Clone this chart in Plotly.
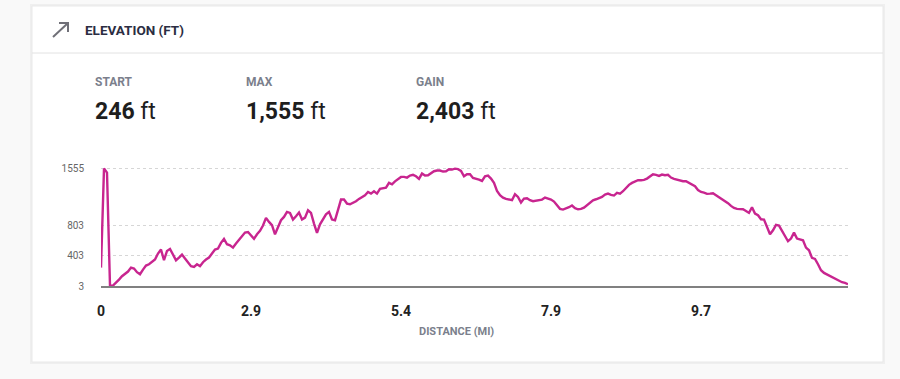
import plotly.graph_objects as go

# ---------------- data ----------------
elevation_ft = [
    246, 1555, 1500, 3, 9, 44, 88, 132, 167, 194,
    246, 233, 185, 158, 220, 273, 290, 317, 352, 431,
    484, 343, 466, 493, 422, 343, 378, 418, 365, 317,
    264, 255, 290, 264, 317, 352, 378, 431, 484, 497,
    572, 625, 554, 541, 510, 563, 607, 651, 708, 715,
    673, 625, 686, 730, 801, 902, 849, 805, 686, 783,
    871, 915, 981, 968, 880, 924, 972, 880, 906, 1003,
    968, 827, 704, 818, 880, 950, 981, 880, 871, 1003,
    1144, 1144, 1091, 1082, 1100, 1122, 1153, 1179, 1201, 1245,
    1223, 1254, 1223, 1285, 1294, 1302, 1364, 1346, 1385, 1420,
    1443, 1443, 1434, 1461, 1470, 1452, 1417, 1487, 1461, 1465,
    1496, 1518, 1527, 1527, 1514, 1518, 1544, 1540, 1552, 1545,
    1522, 1452, 1478, 1478, 1430, 1421, 1408, 1390, 1452, 1461,
    1421, 1364, 1258, 1201, 1170, 1153, 1148, 1135, 1214, 1179,
    1104, 1157, 1162, 1135, 1122, 1126, 1135, 1144, 1170, 1155,
    1144, 1118, 1074, 1021, 1012, 1025, 1043, 1065, 1030, 1016,
    1021, 1038, 1074, 1109, 1135, 1148, 1162, 1179, 1210, 1223,
    1206, 1197, 1232, 1223, 1254, 1302, 1338, 1364, 1386, 1399,
    1399, 1404, 1421, 1452, 1478, 1470, 1456, 1474, 1465, 1470,
    1434, 1417, 1404, 1395, 1386, 1386, 1364, 1342, 1320, 1270,
    1245, 1236, 1219, 1223, 1228, 1201, 1175, 1153, 1126, 1096,
    1060, 1034, 1021, 1021, 1016, 994, 968, 1043, 959, 937,
    884, 880, 783, 686, 739, 810, 801, 730, 651, 594,
    629, 708, 629, 616, 607, 510, 475, 374, 361, 290,
    211, 176, 154, 136, 114, 88, 70, 53, 44, 26,
]
sample_index = list(range(len(elevation_ft)))

x_tick_index = [0, 50, 100, 150, 200]
x_tick_labels = ["0", "2.9", "5.4", "7.9", "9.7"]
y_tick_values = [3, 403, 803, 1555]
y_tick_labels = ["3", "403", "803", "1555"]

stat_labels = ["START", "MAX", "GAIN"]
stat_numbers = ["246", "1,555", "2,403"]
stat_unit = "ft"

title_text = "ELEVATION (FT)"
x_title_text = "DISTANCE (MI)"

# ---------------- layout helpers ----------------
W, H = 900, 379
L, R, T, B = 101, 52, 163, 93
PW, PH = W - L - R, H - T - B


def px(x):
    return (x - L) / PW


def py(y):
    return (H - B - y) / PH


LINE_COLOR = "#c8258f"
FONT = "Roboto, 'Open Sans', sans-serif"

fig = go.Figure()
fig.add_trace(go.Scatter(
    x=sample_index, y=elevation_ft, mode="lines",
    line=dict(color=LINE_COLOR, width=2.4), hoverinfo="skip", showlegend=False,
))

shapes = [
    # card shadow + card
    dict(type="rect", xref="paper", yref="paper", x0=px(30), x1=px(885), y0=py(364), y1=py(4),
         fillcolor="#efefef", line=dict(width=0), layer="below"),
    dict(type="rect", xref="paper", yref="paper", x0=px(32), x1=px(883), y0=py(362), y1=py(6),
         fillcolor="#ffffff", line=dict(color="#e9e9e9", width=1), layer="below"),
    # header divider
    dict(type="line", xref="paper", yref="paper", x0=px(32), x1=px(883), y0=py(53), y1=py(53),
         line=dict(color="#e2e2e2", width=1), layer="below"),
    # arrow icon
    dict(type="path", xref="paper", yref="paper",
         path=(f"M {px(53)},{py(37)} L {px(68)},{py(23)} "
               f"M {px(59)},{py(23)} L {px(68)},{py(23)} L {px(68)},{py(32)}"),
         line=dict(color="#707078", width=2)),
]

annotations = [
    dict(text=f"<b>{title_text}</b>", x=px(83), y=py(30), xref="paper", yref="paper",
         xanchor="left", yanchor="middle", showarrow=False,
         font=dict(family=FONT, size=13.5, color="#2b2d42")),
    dict(text=f"<b>{x_title_text}</b>", x=px(456), y=py(331), xref="paper", yref="paper",
         xanchor="center", yanchor="middle", showarrow=False,
         font=dict(family=FONT, size=11, color="#7b7f8c")),
]
stat_x = [94, 245, 415]
for sx, lab, num in zip(stat_x, stat_labels, stat_numbers):
    annotations.append(dict(text=f"<b>{lab}</b>", x=px(sx - 1), y=py(82), xref="paper", yref="paper",
                            xanchor="left", yanchor="middle", showarrow=False,
                            font=dict(family=FONT, size=12, color="#7b7f8c")))
    annotations.append(dict(text=f"<b>{num}</b> {stat_unit}", x=px(sx - 1), y=py(111),
                            xref="paper", yref="paper", xanchor="left", yanchor="middle",
                            showarrow=False, font=dict(family=FONT, size=23, color="#1e1e1e")))

fig.update_layout(
    width=W, height=H,
    margin=dict(l=L, r=R, t=T, b=B, pad=0),
    paper_bgcolor="#f9f9f9", plot_bgcolor="rgba(0,0,0,0)",
    shapes=shapes, annotations=annotations,
    showlegend=False,
    xaxis=dict(
        range=[0, len(elevation_ft) - 1], tickmode="array",
        tickvals=x_tick_index, ticktext=[f"<b>{t}</b>" for t in x_tick_labels],
        showgrid=False, zeroline=False, showline=True, linecolor="#808080", linewidth=2,
        ticks="", ticklabelstandoff=11,
        tickfont=dict(family=FONT, size=14, color="#222222"),
    ),
    yaxis=dict(
        range=[3, 3 + PH * 13.2], tickmode="array",
        tickvals=y_tick_values, ticktext=y_tick_labels,
        showgrid=True, gridcolor="#d6d6d6", griddash="dot", gridwidth=1,
        zeroline=False, showline=False, ticks="", ticklabelstandoff=16,
        tickfont=dict(family=FONT, size=10, color="#666666"),
    ),
)

fig.write_html(
    "out.html",
    config={"displayModeBar": False},
    post_script="document.body.style.margin='0';document.body.style.overflow='hidden';",
)
